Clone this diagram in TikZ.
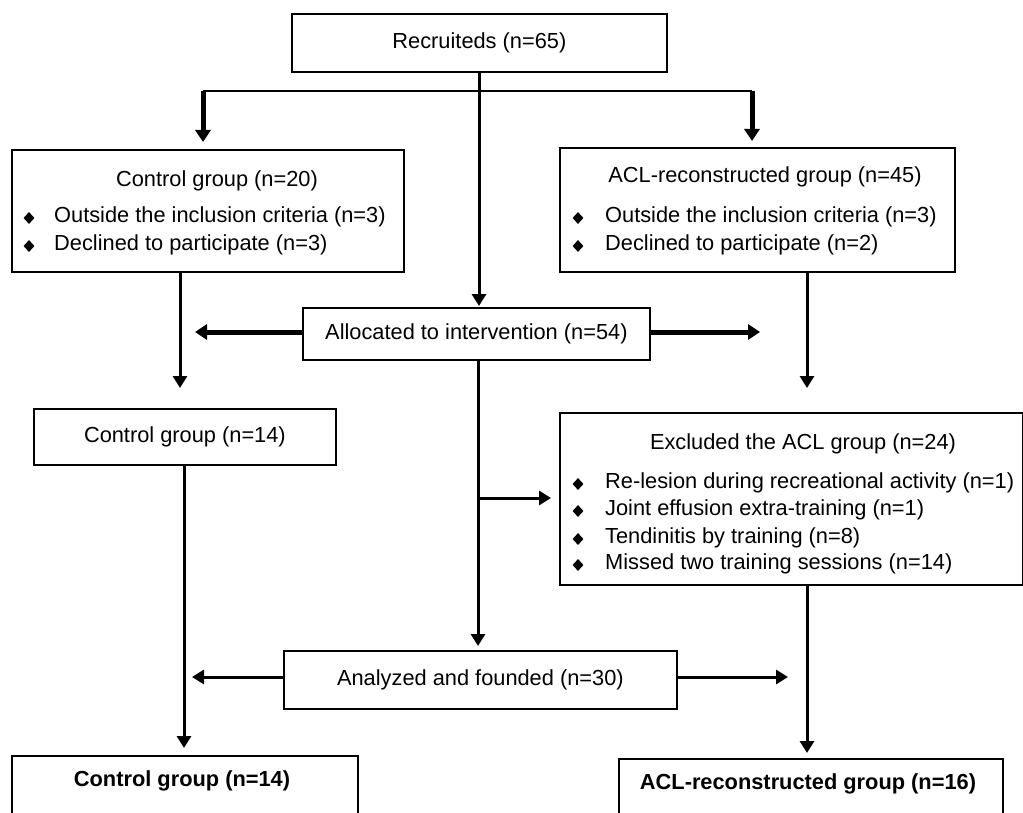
\documentclass[tikz,border=0pt]{standalone}
\usepackage{fontspec}
\setmainfont{Liberation Sans}
\usetikzlibrary{arrows.meta,shapes.geometric}
\begin{document}
\begin{tikzpicture}[x=1pt,y=-1pt,
  box/.style={draw, line width=1.8pt, inner sep=0pt, anchor=north west},
  txt/.style={inner sep=0pt, font=\fontsize{21.8}{26}\selectfont},
  ltxt/.style={txt, anchor=west},
  bul/.style={diamond, fill=black, inner sep=0pt, minimum width=11pt, minimum height=12pt},
  conn/.style={line width=3pt},
  arr/.style={line width=3pt, -{Triangle[width=14pt,length=12pt]}},
  bigarr/.style={line width=5pt, -{Triangle[width=15pt,length=12pt]}},
]
\useasboundingbox (0,0) rectangle (1023,813);
\clip (0,0) rectangle (1023,813);
\fill[white] (0,0) rectangle (1023,813);

% boxes
\node[box, minimum width=375pt, minimum height=58pt] (rec) at (291,13) {};
\node[txt] (rect) at (rec.center) {Recruiteds (n=65)};

\node[box, minimum width=392pt, minimum height=122pt] (ctl) at (11,149) {};
\node[txt] (ctlt) at (217,181) {Control group (n=20)};
\node[bul] (cb1) at (29,218) {};
\node[ltxt] (cl1) at (54,217) {Outside the inclusion criteria (n=3)};
\node[bul] (cb2) at (29,246) {};
\node[ltxt] (cl2) at (54,245) {Declined to participate (n=3)};

\node[box, minimum width=395pt, minimum height=124pt] (acl) at (559,147) {};
\node[txt] (aclt) at (765,177) {ACL-reconstructed group (n=45)};
\node[bul] (ab1) at (578,218) {};
\node[ltxt] (al1) at (605,217) {Outside the inclusion criteria (n=3)};
\node[bul] (ab2) at (578,246) {};
\node[ltxt] (al2) at (605,245) {Declined to participate (n=2)};

\node[box, minimum width=347pt, minimum height=52pt] (alloc) at (302,307) {};
\node[txt] (allt) at (alloc.center) {Allocated to intervention (n=54)};

\node[box, minimum width=302pt, minimum height=56pt] (ctl14) at (33,408) {};
\node[txt] (c14t) at (ctl14.center) {Control group (n=14)};

\node[box, minimum width=463pt, minimum height=172pt] (excl) at (559,412) {};
\node[txt] (exclt) at (803,444) {Excluded the ACL group (n=24)};
\node[bul] (eb1) at (578,484) {};
\node[ltxt] (el1) at (605,483) {Re-lesion during recreational activity (n=1)};
\node[bul] (eb2) at (578,511) {};
\node[ltxt] (el2) at (605,510) {Joint effusion extra-training (n=1)};
\node[bul] (eb3) at (578,539) {};
\node[ltxt] (el3) at (605,538) {Tendinitis by training (n=8)};
\node[bul] (eb4) at (578,565) {};
\node[ltxt] (el4) at (605,564) {Missed two training sessions (n=14)};

\node[box, minimum width=393pt, minimum height=58pt] (ana) at (283,650) {};
\node[txt] (anat) at (ana.center) {Analyzed and founded (n=30)};

\node[box, minimum width=346pt, minimum height=90pt] (fctl) at (11,755) {};
\node[txt, font=\fontsize{21.8}{26}\selectfont\bfseries] (fctlt) at (182,781) {Control group (n=14)};

\node[box, minimum width=384pt, minimum height=90pt] (facl) at (618,758) {};
\node[txt, font=\fontsize{21.8}{26}\selectfont\bfseries] (faclt) at (808,784) {ACL-reconstructed group (n=16)};

% connector points
\coordinate (sl) at (203,91);
\coordinate (sr) at (752,91);
\coordinate (recb) at (479,71);
\coordinate (ctlb) at (180,271);
\coordinate (aclb) at (807,271);
\coordinate (allb) at (478,359);
\coordinate (aL) at (195,332);
\coordinate (aR) at (760,332);
\coordinate (br) at (478,498);
\coordinate (c14b) at (184,464);
\coordinate (exb) at (807,584);
\coordinate (nL) at (192,677);
\coordinate (nR) at (788,677);

% connectors
\draw[line width=2.5pt] (sl) -- (sr);
\draw[bigarr, shorten >=7pt] (sl) -- (sl |- ctl.north);
\draw[bigarr, shorten >=6pt] (sr) -- (sr |- acl.north);
\draw[arr, shorten >=1pt] (recb) -- (recb |- alloc.north);
\draw[arr, shorten >=20pt] (ctlb) -- (ctlb |- ctl14.north);
\draw[arr, shorten >=24pt] (aclb) -- (aclb |- excl.north);
\draw[bigarr] (alloc.west |- aL) -- (aL);
\draw[bigarr] (alloc.east |- aR) -- (aR);
\draw[arr, shorten >=4pt] (allb) -- (allb |- ana.north);
\draw[arr, shorten >=8pt] (br) -- (br -| excl.west);
\draw[arr] (ana.west |- nL) -- (nL);
\draw[arr] (ana.east |- nR) -- (nR);
\draw[arr, shorten >=7pt] (c14b) -- (c14b |- fctl.north);
\draw[arr, shorten >=5pt] (exb) -- (exb |- facl.north);
\end{tikzpicture}
\end{document}
